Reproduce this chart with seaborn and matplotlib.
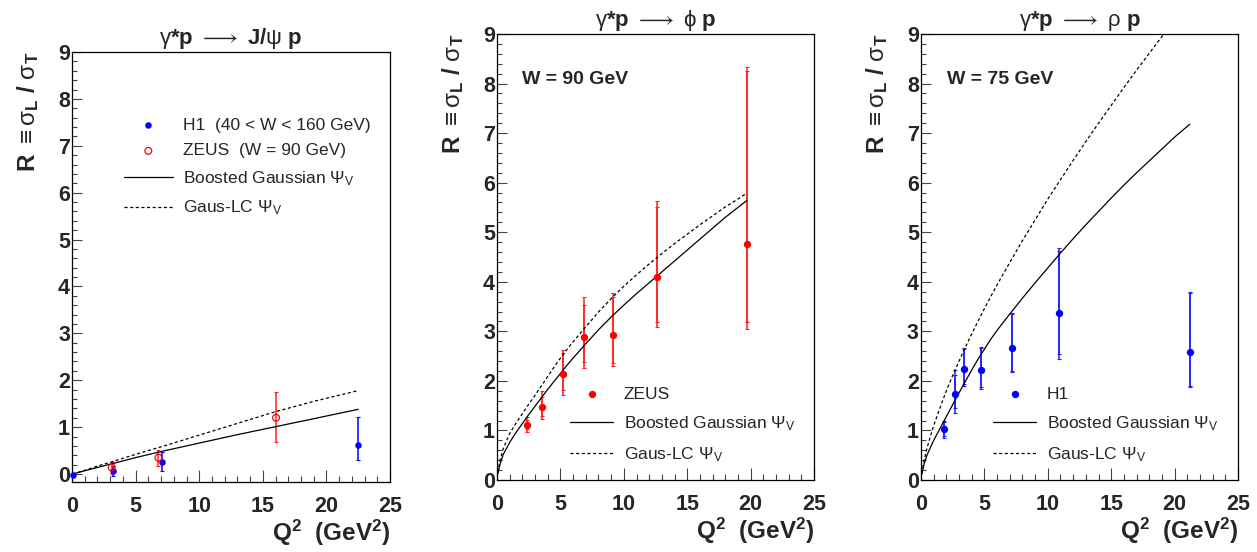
import matplotlib
matplotlib.use("Agg")
import matplotlib.pyplot as plt
import seaborn as sns
from matplotlib.ticker import MultipleLocator

# ---- gamma* p -> J/psi p ----
jpsi_h1_q2 = [0.05, 3.2, 7.05, 22.45]
jpsi_h1_r = [-0.02, 0.07, 0.25, 0.62]
jpsi_h1_hi = [0.0, 0.17, 0.48, 1.21]
jpsi_h1_lo = [-0.04, -0.04, 0.06, 0.30]
jpsi_zeus_q2 = [3.12, 6.79, 16.04]
jpsi_zeus_r = [0.14, 0.35, 1.20]
jpsi_zeus_hi = [0.26, 0.51, 1.75]
jpsi_zeus_lo = [0.0, 0.17, 0.69]
jpsi_curve_q2 = [0.05, 1, 2, 3, 5, 7, 10, 13, 16, 19, 22.5]
jpsi_bg = [0.0, 0.07, 0.14, 0.21, 0.35, 0.48, 0.66, 0.84, 1.01, 1.18, 1.38]
jpsi_lc = [0.0, 0.08, 0.17, 0.25, 0.42, 0.58, 0.83, 1.08, 1.33, 1.55, 1.78]

# ---- gamma* p -> phi p (ZEUS, W = 90 GeV) ----
phi_q2 = [2.39, 3.57, 5.17, 6.87, 9.18, 12.59, 19.7]
phi_r = [1.12, 1.48, 2.14, 2.88, 2.93, 4.09, 4.76]
phi_tot_hi = [1.28, 1.80, 2.63, 3.70, 3.77, 5.63, 8.33]
phi_tot_lo = [0.97, 1.24, 1.72, 2.26, 2.31, 3.09, 3.04]
phi_stat_hi = [1.22, 1.68, 2.56, 3.54, 3.70, 5.50, 8.26]
phi_stat_lo = [1.02, 1.30, 1.81, 2.38, 2.36, 3.18, 3.18]
phi_curve_q2 = [0.05, 0.25, 0.5, 1, 1.5, 2, 2.5, 3, 3.5, 4, 4.5, 5, 5.5, 6, 7, 8, 9,
                10, 11, 12, 13, 14, 15, 16, 17, 18, 19, 19.7]
phi_bg = [0.12, 0.33, 0.52, 0.76, 0.96, 1.14, 1.32, 1.49, 1.66, 1.83, 1.99, 2.15, 2.31,
          2.46, 2.75, 3.03, 3.29, 3.53, 3.76, 3.98, 4.20, 4.42, 4.64, 4.86, 5.08, 5.30,
          5.50, 5.64]
phi_lc = [0.15, 0.41, 0.64, 0.94, 1.15, 1.34, 1.53, 1.71, 1.90, 2.09, 2.28, 2.46, 2.63,
          2.79, 3.09, 3.39, 3.66, 3.91, 4.14, 4.36, 4.57, 4.77, 4.96, 5.15, 5.33, 5.51,
          5.67, 5.79]

# ---- gamma* p -> rho p (H1, W = 75 GeV) ----
rho_q2 = [1.78, 2.68, 3.38, 4.77, 7.19, 10.89, 21.2]
rho_r = [1.03, 1.74, 2.24, 2.22, 2.66, 3.38, 2.59]
rho_tot_hi = [1.20, 2.22, 2.67, 2.69, 3.38, 4.69, 3.79]
rho_tot_lo = [0.85, 1.35, 1.90, 1.84, 2.17, 2.44, 1.88]
rho_stat_hi = [1.17, 2.12, 2.64, 2.66, 3.35, 4.63, 3.77]
rho_stat_lo = [0.88, 1.45, 1.93, 1.87, 2.20, 2.55, 1.90]
rho_bg_q2 = [0.05, 0.25, 0.5, 1, 1.5, 2, 2.5, 3, 3.5, 4, 4.5, 5, 5.5, 6, 7, 8, 9, 10,
             11, 12, 13, 14, 15, 16, 17, 18, 19, 20, 21.2]
rho_bg = [0.11, 0.33, 0.52, 0.80, 1.04, 1.28, 1.52, 1.76, 1.99, 2.22, 2.44, 2.64, 2.84,
          3.02, 3.35, 3.67, 3.98, 4.28, 4.58, 4.87, 5.15, 5.42, 5.69, 5.95, 6.20, 6.44,
          6.68, 6.92, 7.18]
rho_lc_q2 = [0.05, 0.25, 0.5, 1, 1.5, 2, 2.5, 3, 3.5, 4, 5, 6, 7, 8, 9, 10, 11, 12, 13,
             14, 15, 16, 17, 18, 19, 19.6]
rho_lc = [0.13, 0.41, 0.67, 1.10, 1.46, 1.80, 2.11, 2.40, 2.68, 2.95, 3.46, 3.94, 4.39,
          4.83, 5.25, 5.67, 6.06, 6.45, 6.83, 7.20, 7.56, 7.92, 8.27, 8.61, 8.95, 9.15]

sns.set_style("ticks")
plt.rcParams["font.family"] = ["Liberation Sans", "DejaVu Sans"]
plt.rcParams["mathtext.fontset"] = "custom"
plt.rcParams["mathtext.rm"] = "Liberation Sans"
plt.rcParams["mathtext.it"] = "Liberation Sans:italic"
plt.rcParams["mathtext.bf"] = "Liberation Sans:bold"
plt.rcParams["mathtext.default"] = "rm"

DASH = (0, (2.5, 2))
BG_LABEL = r"Boosted Gaussian $\Psi_{\rm V}$"
LC_LABEL = r"Gaus-LC $\Psi_{\rm V}$"
LEG_KW = dict(loc="upper left", frameon=False, borderpad=0, borderaxespad=0,
              handletextpad=0.6, prop={"size": 12.5, "weight": "normal"})


def style_axes(ax, ymin, title):
    ax.set_xlim(0, 25)
    ax.set_ylim(ymin, 9)
    ax.xaxis.set_major_locator(MultipleLocator(5))
    ax.xaxis.set_minor_locator(MultipleLocator(1))
    ax.yaxis.set_major_locator(MultipleLocator(1))
    ax.yaxis.set_minor_locator(MultipleLocator(0.2))
    ax.tick_params(axis="both", which="both", direction="in", color="#444444",
                   width=0.8, top=False, right=False, labelsize=15.5)
    ax.tick_params(axis="x", which="major", length=9, pad=10)
    ax.tick_params(axis="x", which="minor", length=4)
    ax.tick_params(axis="y", which="major", length=7, pad=1.5)
    ax.tick_params(axis="y", which="minor", length=3.5)
    for lbl in ax.get_xticklabels() + ax.get_yticklabels():
        lbl.set_fontweight("bold")
    for sp in ax.spines.values():
        sp.set_visible(True)
        sp.set_linewidth(0.9)
        sp.set_color("black")
    ax.set_title(title, fontsize=16, fontweight="bold", pad=6)
    ax.set_ylabel(r"R $\equiv$$\sigma_{\mathbf{L}}$ / $\sigma_{\mathbf{T}}$",
                  loc="top", fontsize=17.5, fontweight="bold", labelpad=12)
    ax.set_xlabel(r"Q$^{\mathbf{2}}$  (GeV$^{\mathbf{2}}$)", loc="right",
                  fontsize=17.5, fontweight="bold", labelpad=1)


def draw_errors(ax, q2, lo, hi, r, color, capsize):
    yerr = [[a - b for a, b in zip(r, lo)], [b - a for a, b in zip(r, hi)]]
    ax.errorbar(q2, r, yerr=yerr, fmt="none", ecolor=color, elinewidth=1.1,
                capsize=capsize, capthick=0.8, zorder=2)


def draw_curves(ax, q_bg, bg, q_lc, lc):
    sns.lineplot(x=q_bg, y=bg, ax=ax, color="black", linewidth=0.9,
                 estimator=None, sort=False, label=BG_LABEL, zorder=4)
    sns.lineplot(x=q_lc, y=lc, ax=ax, color="black", linewidth=0.9,
                 linestyle=DASH, estimator=None, sort=False, label=LC_LABEL, zorder=4)


fig = plt.figure(figsize=(12.57, 5.52), dpi=100)
ax1 = fig.add_axes([0.0573, 0.1268, 0.2530, 0.7790])
ax2 = fig.add_axes([0.3954, 0.1304, 0.2522, 0.8080])
ax3 = fig.add_axes([0.7327, 0.1304, 0.2522, 0.8080])

# panel 1
draw_errors(ax1, jpsi_h1_q2, jpsi_h1_lo, jpsi_h1_hi, jpsi_h1_r, "#0000ff", 1.2)
draw_errors(ax1, jpsi_zeus_q2, jpsi_zeus_lo, jpsi_zeus_hi, jpsi_zeus_r, "#ff2020", 1.2)
sns.scatterplot(x=jpsi_h1_q2, y=jpsi_h1_r, ax=ax1, color="#0000ff", s=22,
                linewidth=0, label="H1  (40 < W < 160 GeV)", zorder=5, clip_on=False)
sns.scatterplot(x=jpsi_zeus_q2, y=jpsi_zeus_r, ax=ax1, s=24, marker="o",
                edgecolor="#ff0000", linewidth=0.9, label="ZEUS  (W = 90 GeV)", zorder=5)
ax1.collections[-1].set_facecolor("none")
draw_curves(ax1, jpsi_curve_q2, jpsi_bg, jpsi_curve_q2, jpsi_lc)
style_axes(ax1, -0.17, r"$\gamma$*p $\longrightarrow$ J/$\psi$ p")
ax1.legend(bbox_to_anchor=(0.1635, 0.848), handlelength=2.8, labelspacing=0.62,
           **LEG_KW)

# panel 2
draw_errors(ax2, phi_q2, phi_tot_lo, phi_tot_hi, phi_r, "#ff2020", 1.3)
draw_errors(ax2, phi_q2, phi_stat_lo, phi_stat_hi, phi_r, "#ff2020", 1.3)
sns.scatterplot(x=phi_q2, y=phi_r, ax=ax2, color="#ff0000", s=28, linewidth=0,
                label="ZEUS", zorder=5)
draw_curves(ax2, phi_curve_q2, phi_bg, phi_curve_q2, phi_lc)
style_axes(ax2, 0, r"$\gamma$*p $\longrightarrow$ $\phi$ p")
ax2.text(0.078, 0.897, "W = 90 GeV", transform=ax2.transAxes, fontsize=14,
         fontweight="bold", va="center", ha="left")
ax2.legend(bbox_to_anchor=(0.230, 0.210), handlelength=2.5, labelspacing=0.72,
           **LEG_KW)

# panel 3
draw_errors(ax3, rho_q2, rho_tot_lo, rho_tot_hi, rho_r, "#2020ff", 1.3)
draw_errors(ax3, rho_q2, rho_stat_lo, rho_stat_hi, rho_r, "#2020ff", 1.3)
sns.scatterplot(x=rho_q2, y=rho_r, ax=ax3, color="#0000ff", s=28, linewidth=0,
                label="H1", zorder=5)
draw_curves(ax3, rho_bg_q2, rho_bg, rho_lc_q2, rho_lc)
style_axes(ax3, 0, r"$\gamma$*p $\longrightarrow$ $\rho$ p")
ax3.text(0.081, 0.897, "W = 75 GeV", transform=ax3.transAxes, fontsize=14,
         fontweight="bold", va="center", ha="left")
ax3.legend(bbox_to_anchor=(0.227, 0.210), handlelength=2.5, labelspacing=0.72,
           **LEG_KW)

fig.savefig("out.png", dpi=100, facecolor="white")
